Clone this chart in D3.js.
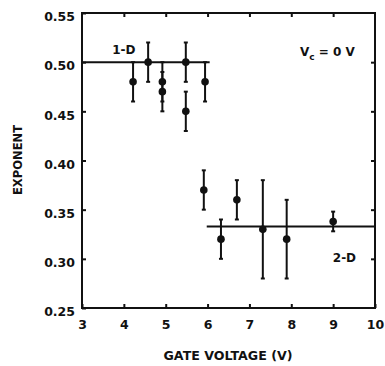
<!DOCTYPE html>
<html>
<head>
<meta charset="utf-8">
<script src="https://cdn.jsdelivr.net/npm/d3@7"></script>
<style>
    body { margin: 0; background: #fff; }
    svg text { font-family: "DejaVu Sans", Arial, sans-serif; font-weight: bold; fill: #111; }
</style>
</head>
<body>
<svg id="chart" width="385" height="366"></svg>
<script>
// data
const gateVoltage = [4.22, 4.58, 4.92, 4.92, 5.48, 5.48, 5.94, 5.91, 6.32, 6.70, 7.32, 7.89, 9.0];
const exponent    = [0.48, 0.50, 0.48, 0.47, 0.50, 0.45, 0.48, 0.37, 0.32, 0.36, 0.33, 0.32, 0.338];
const errBar      = [0.02, 0.02, 0.02, 0.02, 0.02, 0.02, 0.02, 0.02, 0.02, 0.02, 0.05, 0.04, 0.01];

const xTicks = [3, 4, 5, 6, 7, 8, 9, 10];
const yTicks = [0.25, 0.30, 0.35, 0.40, 0.45, 0.50, 0.55];

// fitted levels
const fitLines = [
    { x0: 3, x1: 6.05, y: 0.50, label: "1-D", lx: 4.0, ly: 0.508 },
    { x0: 5.98, x1: 10, y: 0.333, label: "2-D", lx: 9.27, ly: 0.2965 },
];

const ctx = {
    LEFT: 82,
    RIGHT: 375,
    TOP: 13,
    BOTTOM: 308,
    TICK: 4,
    R: 3.8,
    FONT: "'DejaVu Sans', Arial, sans-serif",
};

const svg = d3.select("#chart");

const x = d3.scaleLinear().domain([3, 10]).range([ctx.LEFT, ctx.RIGHT]);
const y = d3.scaleLinear().domain([0.25, 0.55]).range([ctx.BOTTOM, ctx.TOP]);

// frame
svg.append("rect")
    .attr("x", ctx.LEFT).attr("y", ctx.TOP)
    .attr("width", ctx.RIGHT - ctx.LEFT).attr("height", ctx.BOTTOM - ctx.TOP)
    .attr("fill", "none").attr("stroke", "#111").attr("stroke-width", 2);

// axes with inward ticks
svg.append("g")
    .attr("class", "xaxis")
    .attr("transform", `translate(0,${ctx.BOTTOM})`)
    .call(d3.axisBottom(x).tickValues(xTicks).tickSize(-ctx.TICK).tickPadding(12).tickFormat(d3.format("d")))
    .call(g => g.select(".domain").remove());
svg.append("g")
    .attr("transform", `translate(0,${ctx.TOP})`)
    .call(d3.axisTop(x).tickValues(xTicks.slice(1, -1)).tickSize(-ctx.TICK).tickFormat(""))
    .call(g => g.select(".domain").remove());
svg.append("g")
    .attr("class", "yaxis")
    .attr("transform", `translate(${ctx.LEFT},0)`)
    .call(d3.axisLeft(y).tickValues(yTicks).tickSize(-ctx.TICK).tickPadding(7).tickFormat(d3.format(".2f")))
    .call(g => g.select(".domain").remove());
svg.append("g")
    .attr("transform", `translate(${ctx.RIGHT},0)`)
    .call(d3.axisRight(y).tickValues(yTicks.slice(1, -1)).tickSize(-ctx.TICK).tickFormat(""))
    .call(g => g.select(".domain").remove());

svg.selectAll(".tick line").attr("stroke", "#111").attr("stroke-width", 2);
svg.selectAll(".tick text")
    .style("font-size", "12.5px")
    .style("font-weight", "bold")
    .style("font-family", ctx.FONT)
    .attr("fill", "#111");
svg.selectAll(".yaxis .tick text").attr("dy", "0.62em");

// axis titles
svg.append("text")
    .attr("x", 228)
    .attr("y", 360)
    .attr("text-anchor", "middle")
    .attr("textLength", 129)
    .attr("lengthAdjust", "spacingAndGlyphs")
    .style("font-size", "11.5px")
    .text("GATE VOLTAGE (V)");
svg.append("text")
    .attr("transform", `translate(22,160) rotate(-90)`)
    .attr("text-anchor", "middle")
    .attr("textLength", 70)
    .attr("lengthAdjust", "spacingAndGlyphs")
    .style("font-size", "12px")
    .text("EXPONENT");

// fitted lines + labels
svg.selectAll(".fit")
    .data(fitLines)
    .enter()
    .append("line")
    .attr("class", "fit")
    .attr("x1", d => x(d.x0)).attr("x2", d => x(d.x1))
    .attr("y1", d => y(d.y)).attr("y2", d => y(d.y))
    .attr("stroke", "#111").attr("stroke-width", 2);
svg.selectAll(".fitlabel")
    .data(fitLines)
    .enter()
    .append("text")
    .attr("class", "fitlabel")
    .attr("x", d => x(d.lx)).attr("y", d => y(d.ly))
    .attr("text-anchor", "middle")
    .style("font-size", "12px")
    .text(d => d.label);

// Vc label
const vc = svg.append("text")
    .attr("x", 300).attr("y", 56)
    .style("font-size", "12px");
vc.append("tspan").text("V");
vc.append("tspan").attr("dy", 4).style("font-size", "9px").text("c");
vc.append("tspan").attr("dy", -4).text(" = 0 V");

// points with error bars
const pts = gateVoltage.map((v, i) => ({ v: v, e: exponent[i], err: errBar[i] }));
const g = svg.append("g").attr("stroke", "#111").attr("fill", "#111");
g.selectAll(".err")
    .data(pts)
    .enter()
    .append("line")
    .attr("x1", d => x(d.v)).attr("x2", d => x(d.v))
    .attr("y1", d => y(d.e - d.err)).attr("y2", d => y(d.e + d.err))
    .attr("stroke-width", 2);
[-1, 1].forEach(s => {
    g.selectAll(".cap" + s)
        .data(pts)
        .enter()
        .append("line")
        .attr("x1", d => x(d.v) - 2).attr("x2", d => x(d.v) + 2)
        .attr("y1", d => y(d.e + s * d.err)).attr("y2", d => y(d.e + s * d.err))
        .attr("stroke-width", 2);
});
g.selectAll("circle")
    .data(pts)
    .enter()
    .append("circle")
    .attr("cx", d => x(d.v)).attr("cy", d => y(d.e))
    .attr("r", ctx.R)
    .attr("stroke", "none");
</script>
</body>
</html>
